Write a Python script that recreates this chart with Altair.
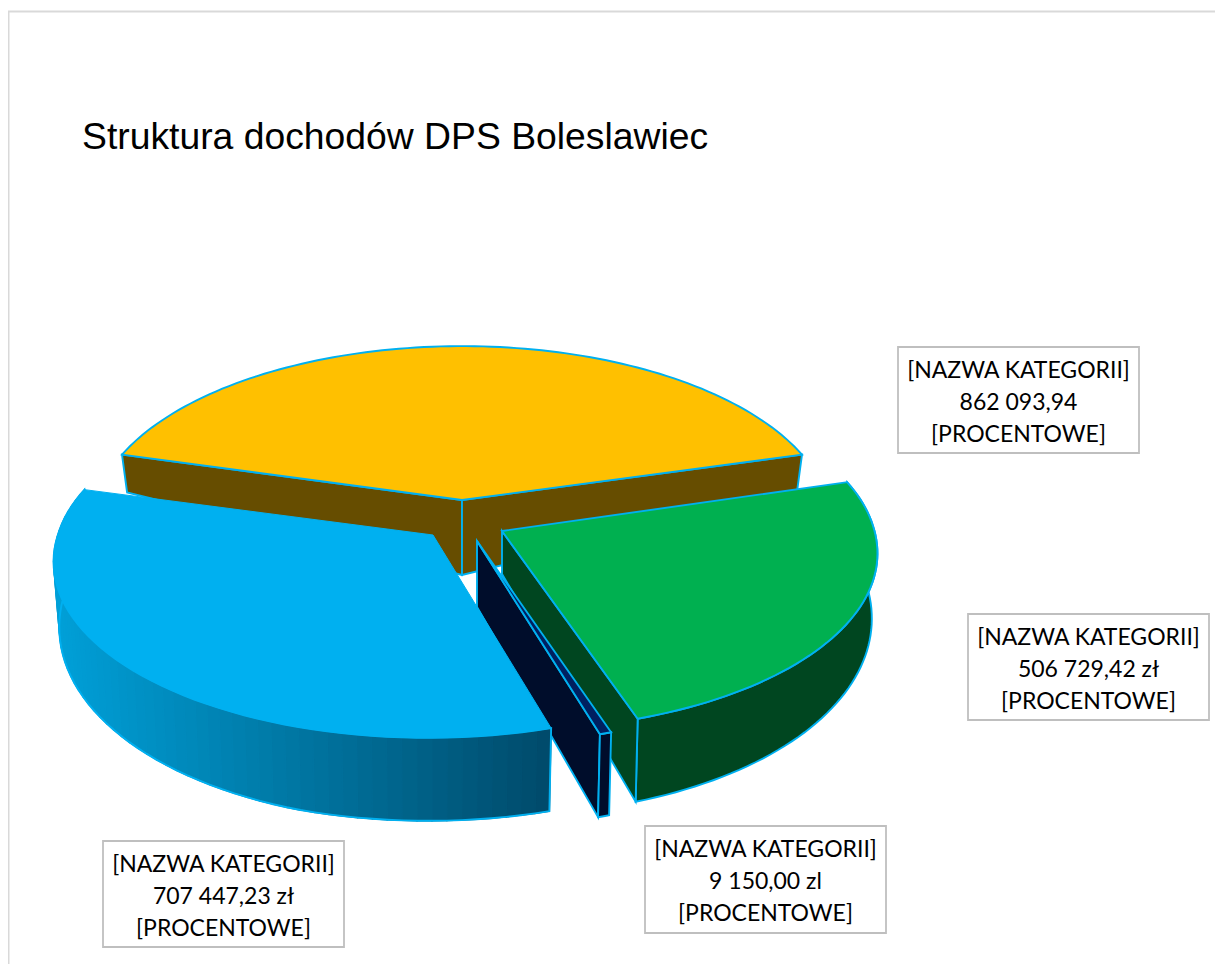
import math
import altair as alt
import pandas as pd

# ---- data ----
categories = ["yellow", "green", "navy", "blue"]
values = [862093.94, 506729.42, 9150.00, 707447.23]
value_labels = ["862 093,94", "506 729,42 zł", "9 150,00 zl", "707 447,23 zł"]
category_label = "[NAZWA KATEGORII]"
percent_labels = ["[PROCENTOWE]", "\u00a0[PROCENTOWE]", "[PROCENTOWE]", "[PROCENTOWE]"]
title_text = "Struktura dochodów DPS Boleslawiec"
clipped_text = "stanowi 98,50% ogółu planowanych środków."

# ---- layout / style constants (page px minus the 8px margin offset) ----
OFF = 8
W, H = 1207, 956
A, B, D = 366.0, 175.0, 7.29        # perspective of the disc
APEX = {"yellow": (462, 500), "green": (502, 531), "navy": (477, 541), "blue": (433, 535)}
APEX_DROP = {"yellow": 75, "green": 43, "navy": 66, "blue": 70}
# exploded slices sit nearer the camera: x scale, shear with depth, rim shift in y
SLICE_VIEW = {
    "yellow": (1.0, 0.0, 0.0),
    "green": (1.015, 3.0, -3.5),
    "navy": (1.025, 0.0, 0.0),
    "blue": (1.025, -5.0, 0.0),
}
TOP = {"yellow": "#FFC000", "green": "#00B050", "navy": "#002060", "blue": "#00B0F0"}
SIDE = {"yellow": "#664D00", "green": "#004620", "navy": "#000D2B"}
EDGE = "#00B0F0"
BOXES = {
    "yellow": (898, 347, 1139, 453),
    "green": (968, 614, 1209, 720),
    "navy": (645, 826, 886, 933),
    "blue": (103, 841, 344, 947),
}
LABEL_FONT = "Lato"
LABEL_SIZE = 23


def rim_drop(v):
    pts = [(-1.0, 30.0), (-0.3, 35.0), (0.0, 62.0), (0.95, 83.0), (1.0, 83.0)]
    for (a, ha), (b, hb) in zip(pts, pts[1:]):
        if v <= b:
            return ha + (hb - ha) * (v - a) / (b - a)
    return 83.0


def rim_point(name, theta):
    u, v = math.sin(theta), -math.cos(theta)
    s = D / (D - v)
    ax, ay = APEX[name]
    kx, shear, dy = SLICE_VIEW[name]
    return ax + A * kx * u * s + shear * max(v, 0.0), ay + B * v * s + dy, v


def bottom(name, p):
    ax, _ = APEX[name]
    return ax + (p[0] - ax) * 0.985, p[1] + rim_drop(p[2])


def feature(points, fill, stroke, width=1.9):
    ring = [[round(x - OFF, 2), round(y - OFF, 2)] for x, y in points]
    ring.append(ring[0])
    return {
        "type": "Feature",
        "geometry": {"type": "Polygon", "coordinates": [ring]},
        "properties": {"fill": fill, "stroke": stroke, "sw": width},
    }


def lerp_hex(c1, c2, t):
    a = [int(c1[i:i + 2], 16) for i in (1, 3, 5)]
    b = [int(c2[i:i + 2], 16) for i in (1, 3, 5)]
    return "#%02x%02x%02x" % tuple(round(x + (y - x) * t) for x, y in zip(a, b))


# slice angles come from the values; the largest slice is centred at the back
total = sum(values)
sweep = {n: 2 * math.pi * val / total for n, val in zip(categories, values)}
start = {}
cur = -sweep["yellow"] / 2
for n in categories:
    start[n] = cur
    cur += sweep[n]


def arc(name, n=120):
    t0, dt = start[name], sweep[name]
    n = max(4, int(n * dt / math.pi))
    return [rim_point(name, t0 + dt * i / n) for i in range(n + 1)]


features = []

# yellow: inner walls then top
y_arc = arc("yellow")
ax, ay = APEX["yellow"]
apex_b = (ax, ay + APEX_DROP["yellow"])
for end in (y_arc[0], y_arc[-1]):
    features.append(feature([(ax, ay), end[:2], bottom("yellow", end), apex_b], SIDE["yellow"], EDGE))
features.append(feature([(ax, ay)] + [p[:2] for p in y_arc], TOP["yellow"], EDGE))

# green: rim, wall, top
g_arc = arc("green")
ax, ay = APEX["green"]
features.append(feature([p[:2] for p in g_arc] + [bottom("green", p) for p in reversed(g_arc)], SIDE["green"], EDGE))
end = g_arc[-1]
features.append(feature([(ax, ay), end[:2], bottom("green", end), (ax, ay + APEX_DROP["green"])], SIDE["green"], EDGE))
features.append(feature([(ax, ay)] + [p[:2] for p in g_arc], TOP["green"], EDGE))

# navy sliver: wall, rim, top
n_arc = arc("navy")
ax, ay = APEX["navy"]
end = n_arc[-1]
features.append(feature([(ax, ay), end[:2], bottom("navy", end), (ax, ay + APEX_DROP["navy"])], SIDE["navy"], EDGE))
features.append(feature([p[:2] for p in n_arc] + [bottom("navy", p) for p in reversed(n_arc)], SIDE["navy"], EDGE))
features.append(feature([(ax, ay)] + [p[:2] for p in n_arc], TOP["navy"], EDGE))

# blue: gradient strips along the rim, outline, top
b_arc = arc("blue", 90)
xs = [p[0] for p in b_arc]
x0, x1 = min(xs), max(xs)
for p, q in zip(b_arc, b_arc[1:]):
    t = (x1 - (p[0] + q[0]) / 2) / (x1 - x0)
    col = lerp_hex("#004A6A", "#00A0D8", t)
    features.append(feature([p[:2], q[:2], bottom("blue", q), bottom("blue", p)], col, col, 1.4))
features.append(feature([p[:2] for p in b_arc] + [bottom("blue", p) for p in reversed(b_arc)], "none", EDGE))
ax, ay = APEX["blue"]
features.append(feature([(ax, ay)] + [p[:2] for p in b_arc], TOP["blue"], TOP["blue"], 1.0))

shapes = (
    alt.Chart(alt.Data(values=features))
    .mark_geoshape()
    .encode(
        fill=alt.Fill("properties.fill:N", scale=None),
        stroke=alt.Stroke("properties.stroke:N", scale=None),
        strokeWidth=alt.StrokeWidth("properties.sw:Q", scale=None),
    )
    .project(type="identity", scale=1, translate=[0, 0])
)

# label boxes and their three text lines
box_rows, text_rows = [], []
for n, val, pct in zip(categories, value_labels, percent_labels):
    l, t, r, b = BOXES[n]
    box_rows.append({"x": l - OFF, "x2": r - OFF, "y": t - OFF, "y2": b - OFF})
    cx = (l + r) / 2 - OFF
    cy = t + 23.5 - OFF
    for i, line in enumerate([category_label, val, pct]):
        text_rows.append({"x": cx, "y": cy + i * 32.3, "t": line})

boxes = (
    alt.Chart(pd.DataFrame(box_rows))
    .mark_rect(fill="white", stroke="#BFBFBF", strokeWidth=1.8)
    .encode(
        x=alt.X("x:Q", scale=None, axis=None),
        x2="x2:Q",
        y=alt.Y("y:Q", scale=None, axis=None),
        y2="y2:Q",
    )
)
labels = (
    alt.Chart(pd.DataFrame(text_rows))
    .mark_text(font=LABEL_FONT, fontSize=LABEL_SIZE, color="#000000", align="center", baseline="middle")
    .encode(x=alt.X("x:Q", scale=None, axis=None), y=alt.Y("y:Q", scale=None, axis=None), text="t:N")
)
title = (
    alt.Chart(pd.DataFrame({"x": [82 - OFF], "y": [149 - OFF], "t": [title_text]}))
    .mark_text(font="Liberation Sans", fontSize=37.3, color="#000000", align="left", baseline="alphabetic")
    .encode(x=alt.X("x:Q", scale=None, axis=None), y=alt.Y("y:Q", scale=None, axis=None), text="t:N")
)
clipped = (
    alt.Chart(pd.DataFrame({"x": [-11], "y": [-5], "t": [clipped_text]}))
    .mark_text(font="Liberation Serif", fontSize=21, color="#000000", align="left", baseline="alphabetic")
    .encode(x=alt.X("x:Q", scale=None, axis=None), y=alt.Y("y:Q", scale=None, axis=None), text="t:N")
)
frame_left = alt.Chart(pd.DataFrame({"x": [0.5], "y": [3], "y2": [H]})).mark_rule(color="#D9D9D9", strokeWidth=2).encode(
    x=alt.X("x:Q", scale=None, axis=None), y=alt.Y("y:Q", scale=None, axis=None), y2="y2:Q"
)
frame_top = alt.Chart(pd.DataFrame({"x": [0], "x2": [W], "y": [3.5]})).mark_rule(color="#D9D9D9", strokeWidth=2).encode(
    x=alt.X("x:Q", scale=None, axis=None), x2="x2:Q", y=alt.Y("y:Q", scale=None, axis=None)
)

chart = (
    alt.layer(frame_left, frame_top, clipped, title, shapes, boxes, labels)
    .properties(width=W, height=H, padding=0, autosize=alt.AutoSizeParams(type="none"))
    .configure_view(stroke=None)
)
chart.save("out.html", embed_options={"renderer": "svg", "actions": False})
